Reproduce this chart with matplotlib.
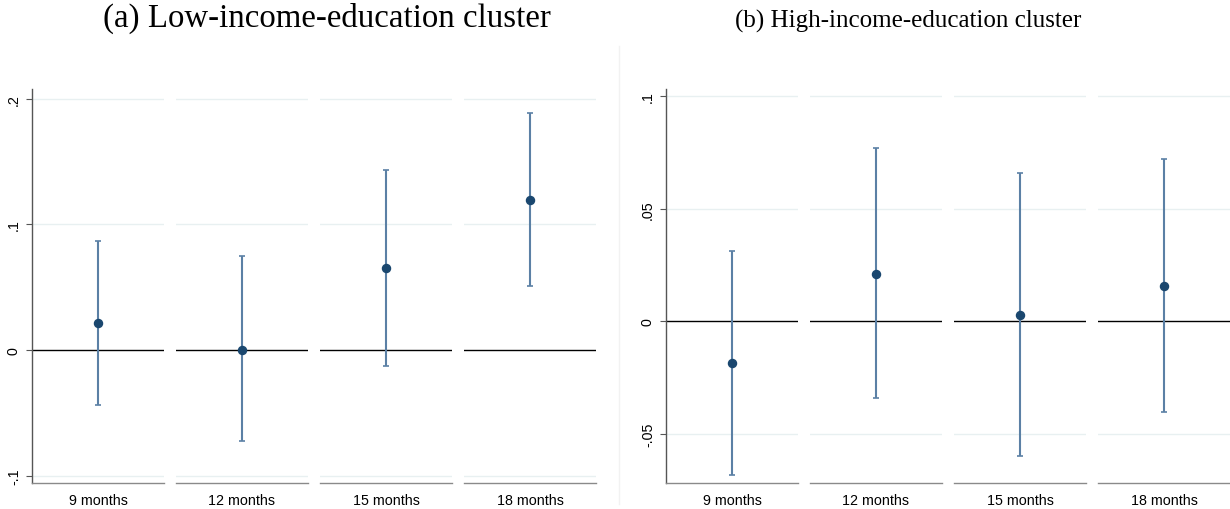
import matplotlib.pyplot as plt
from matplotlib.lines import Line2D

# data
periods = ["9 months", "12 months", "15 months", "18 months"]
low_est = [0.0215, 0.0, 0.0653, 0.1197]
low_lo = [-0.0438, -0.0725, -0.0127, 0.051]
low_hi = [0.0868, 0.0748, 0.143, 0.189]
high_est = [-0.0185, 0.0212, 0.0027, 0.0159]
high_lo = [-0.0683, -0.034, -0.0598, -0.0403]
high_hi = [0.0313, 0.0769, 0.0658, 0.0724]

low_ticks = [-0.1, 0, 0.1, 0.2]
low_ticklabels = ["-.1", "0", ".1", ".2"]
high_ticks = [-0.05, 0, 0.05, 0.1]
high_ticklabels = ["-.05", "0", ".05", ".1"]

W, H = 1230, 510
dot_col = "#1a476f"
ci_col = "#5b80a5"
grid_col = "#e8f0f1"

fig = plt.figure(figsize=(W / 100, H / 100), dpi=100)
fig.patch.set_facecolor("white")


def panel(x0s, width, est, lo, hi, ylim, ticks, ticklabels):
    top, bot = 90, 484
    for i, x0 in enumerate(x0s):
        ax = fig.add_axes([x0 / W, 1 - bot / H, width / W, (bot - top) / H])
        ax.set_xlim(-1, 1)
        ax.set_ylim(*ylim)
        for t in ticks:
            if t != 0:
                ax.axhline(t, color=grid_col, lw=1.0, zorder=0)
        ax.axhline(0, color="black", lw=1.0, zorder=1)
        ax.errorbar([0], [est[i]], yerr=[[est[i] - lo[i]], [hi[i] - est[i]]],
                    fmt="none", ecolor=ci_col, elinewidth=1.5, capsize=2.5,
                    capthick=1.2, zorder=2)
        ax.plot([0], [est[i]], "o", color=dot_col, ms=5.8, zorder=3)
        for s in ["top", "right"]:
            ax.spines[s].set_visible(False)
        ax.spines["bottom"].set_color("#8a8a8a")
        ax.spines["bottom"].set_linewidth(1.0)
        ax.set_xticks([0])
        ax.set_xticklabels([periods[i]], fontsize=10.3, family="Liberation Sans")
        ax.tick_params(axis="x", length=0, pad=7)
        if i == 0:
            ax.spines["left"].set_color("#555555")
            ax.spines["left"].set_linewidth(1.0)
            ax.set_yticks(ticks)
            ax.set_yticklabels(ticklabels, rotation=90, va="center",
                               fontsize=10.3, family="Liberation Sans")
            ax.tick_params(axis="y", length=4, width=0.8, color="#555555", pad=4)
        else:
            ax.spines["left"].set_visible(False)
            ax.set_yticks([])


panel([32, 176, 320, 464], 132, low_est, low_lo, low_hi,
      (-0.1059, 0.2078), low_ticks, low_ticklabels)
panel([666, 810, 954, 1098], 132, high_est, high_lo, high_hi,
      (-0.0718, 0.1033), high_ticks, high_ticklabels)

fig.add_artist(Line2D([619 / W, 619 / W], [1 - 505 / H, 1 - 47 / H],
                      color="#f2f2f2", lw=1.0))

fig.text(327 / W, 1 - 18 / H, "(a) Low-income-education cluster",
         ha="center", va="center", fontsize=23.7, family="Liberation Serif")
fig.text(908 / W, 1 - 21 / H, "(b) High-income-education cluster",
         ha="center", va="center", fontsize=18, family="Liberation Serif")

fig.savefig("out.png", dpi=100)
